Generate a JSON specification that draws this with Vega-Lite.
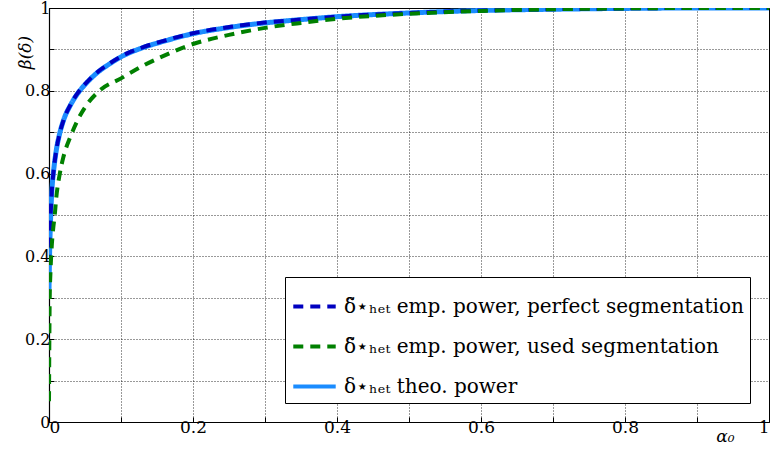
{
  "$schema": "https://vega.github.io/schema/vega-lite/v6.json",
  "width": 720,
  "height": 414,
  "autosize": "none",
  "padding": {"left": 49, "top": 8, "right": 1, "bottom": 29},
  "background": "white",
  "config": {
    "view": {"stroke": "black", "strokeWidth": 1},
    "font": "DejaVu Serif"
  },
  "data": {
    "values": [
      {"s": "theo", "x": 0, "y": 0.32},
      {"s": "theo", "x": 0.001, "y": 0.42},
      {"s": "theo", "x": 0.002, "y": 0.48},
      {"s": "theo", "x": 0.004, "y": 0.56},
      {"s": "theo", "x": 0.006, "y": 0.6},
      {"s": "theo", "x": 0.01, "y": 0.655},
      {"s": "theo", "x": 0.015, "y": 0.698},
      {"s": "theo", "x": 0.02, "y": 0.728},
      {"s": "theo", "x": 0.03, "y": 0.766},
      {"s": "theo", "x": 0.04, "y": 0.794},
      {"s": "theo", "x": 0.05, "y": 0.815},
      {"s": "theo", "x": 0.06, "y": 0.833},
      {"s": "theo", "x": 0.07, "y": 0.848},
      {"s": "theo", "x": 0.085, "y": 0.866},
      {"s": "theo", "x": 0.1, "y": 0.882},
      {"s": "theo", "x": 0.13, "y": 0.904},
      {"s": "theo", "x": 0.16, "y": 0.92},
      {"s": "theo", "x": 0.2, "y": 0.938},
      {"s": "theo", "x": 0.25, "y": 0.953},
      {"s": "theo", "x": 0.3, "y": 0.964},
      {"s": "theo", "x": 0.35, "y": 0.972},
      {"s": "theo", "x": 0.4, "y": 0.979},
      {"s": "theo", "x": 0.5, "y": 0.988},
      {"s": "theo", "x": 0.6, "y": 0.994},
      {"s": "theo", "x": 0.7, "y": 0.997},
      {"s": "theo", "x": 0.8, "y": 0.999},
      {"s": "theo", "x": 0.9, "y": 1},
      {"s": "theo", "x": 1, "y": 1},
      {"s": "perfect", "x": 0, "y": 0.38},
      {"s": "perfect", "x": 0.001, "y": 0.44},
      {"s": "perfect", "x": 0.002, "y": 0.49},
      {"s": "perfect", "x": 0.004, "y": 0.56},
      {"s": "perfect", "x": 0.006, "y": 0.6},
      {"s": "perfect", "x": 0.01, "y": 0.655},
      {"s": "perfect", "x": 0.015, "y": 0.698},
      {"s": "perfect", "x": 0.02, "y": 0.728},
      {"s": "perfect", "x": 0.03, "y": 0.767},
      {"s": "perfect", "x": 0.04, "y": 0.795},
      {"s": "perfect", "x": 0.05, "y": 0.816},
      {"s": "perfect", "x": 0.06, "y": 0.834},
      {"s": "perfect", "x": 0.07, "y": 0.849},
      {"s": "perfect", "x": 0.085, "y": 0.867},
      {"s": "perfect", "x": 0.1, "y": 0.883},
      {"s": "perfect", "x": 0.13, "y": 0.905},
      {"s": "perfect", "x": 0.16, "y": 0.921},
      {"s": "perfect", "x": 0.2, "y": 0.939},
      {"s": "perfect", "x": 0.25, "y": 0.954},
      {"s": "perfect", "x": 0.3, "y": 0.965},
      {"s": "perfect", "x": 0.35, "y": 0.972},
      {"s": "perfect", "x": 0.4, "y": 0.979},
      {"s": "perfect", "x": 0.5, "y": 0.988},
      {"s": "perfect", "x": 0.6, "y": 0.994},
      {"s": "perfect", "x": 0.7, "y": 0.997},
      {"s": "perfect", "x": 0.8, "y": 0.999},
      {"s": "perfect", "x": 0.9, "y": 1},
      {"s": "perfect", "x": 1, "y": 1},
      {"s": "used", "x": 0, "y": 0.05},
      {"s": "used", "x": 0.0005, "y": 0.2},
      {"s": "used", "x": 0.001, "y": 0.3},
      {"s": "used", "x": 0.002, "y": 0.36},
      {"s": "used", "x": 0.004, "y": 0.43},
      {"s": "used", "x": 0.006, "y": 0.47},
      {"s": "used", "x": 0.008, "y": 0.5},
      {"s": "used", "x": 0.01, "y": 0.54},
      {"s": "used", "x": 0.015, "y": 0.6},
      {"s": "used", "x": 0.02, "y": 0.64},
      {"s": "used", "x": 0.03, "y": 0.69},
      {"s": "used", "x": 0.04, "y": 0.73},
      {"s": "used", "x": 0.05, "y": 0.76},
      {"s": "used", "x": 0.07, "y": 0.8},
      {"s": "used", "x": 0.1, "y": 0.83},
      {"s": "used", "x": 0.13, "y": 0.86},
      {"s": "used", "x": 0.16, "y": 0.885},
      {"s": "used", "x": 0.2, "y": 0.913},
      {"s": "used", "x": 0.25, "y": 0.935},
      {"s": "used", "x": 0.3, "y": 0.952},
      {"s": "used", "x": 0.35, "y": 0.964},
      {"s": "used", "x": 0.4, "y": 0.974},
      {"s": "used", "x": 0.5, "y": 0.986},
      {"s": "used", "x": 0.6, "y": 0.993},
      {"s": "used", "x": 0.7, "y": 0.997},
      {"s": "used", "x": 0.8, "y": 0.999},
      {"s": "used", "x": 0.9, "y": 1},
      {"s": "used", "x": 1, "y": 1}
    ]
  },
  "encoding": {
    "x": {
      "field": "x", "type": "quantitative",
      "scale": {"domain": [0, 1], "nice": false, "zero": false},
      "axis": {
        "values": [0, 0.1, 0.2, 0.3, 0.4, 0.5, 0.6, 0.7, 0.8, 0.9, 1],
        "labelExpr": "round(datum.value*10) % 2 == 0 ? format(datum.value, '~g') : ''",
        "grid": true, "gridColor": "#000", "gridDash": [1, 2], "gridOpacity": 0.8,
        "domainColor": "black", "domainWidth": 1.2,
        "tickColor": "black", "tickSize": -5, "tickWidth": 1,
        "labelFont": "DejaVu Serif", "labelFontSize": 17, "labelColor": "black",
        "labelPadding": 2,
        "title": "α₀", "titleFont": "DejaVu Serif", "titleFontStyle": "italic", "titleFontWeight": "normal",
        "titleFontSize": 17, "titleColor": "black",
        "titleX": 676, "titleY": 6, "titleAlign": "center", "titleBaseline": "top"
      }
    },
    "y": {
      "field": "y", "type": "quantitative",
      "scale": {"domain": [0, 1], "nice": false},
      "axis": {
        "values": [0, 0.1, 0.2, 0.3, 0.4, 0.5, 0.6, 0.7, 0.8, 0.9, 1],
        "labelExpr": "round(datum.value*10) % 2 == 0 ? format(datum.value, '~g') : ''",
        "grid": true, "gridColor": "#000", "gridDash": [1, 2], "gridOpacity": 0.8,
        "domainColor": "black", "domainWidth": 1.2,
        "tickColor": "black", "tickSize": -5, "tickWidth": 1,
        "labelFont": "DejaVu Serif", "labelFontSize": 16, "labelColor": "black",
        "labelPadding": 4,
        "title": "β(δ)", "titleFont": "DejaVu Serif", "titleFontStyle": "italic", "titleFontWeight": "normal",
        "titleFontSize": 17, "titleColor": "black", "titleAngle": -90,
        "titleX": -24, "titleY": 44, "titleAlign": "center", "titleBaseline": "middle"
      }
    },
    "color": {
      "field": "s", "type": "nominal",
      "scale": {"domain": ["perfect", "used", "theo"], "range": ["#0000c0", "#008000", "#1a8cff"]},
      "legend": {
        "title": null,
        "orient": "bottom-right", "offset": 19,
        "labelExpr": "datum.value == 'perfect' ? 'δ̃⋆ₕₑₜ emp. power, perfect segmentation' : datum.value == 'used' ? 'δ̃⋆ₕₑₜ emp. power, used segmentation' : 'δ⋆ₕₑₜ theo. power'",
        "labelFont": "DejaVu Serif", "labelFontSize": 20, "labelColor": "black",
        "labelLimit": 600, "labelOffset": 6,
        "symbolType": "stroke", "symbolSize": 1800, "symbolStrokeWidth": 4,
        "rowPadding": 6, "padding": 6,
        "strokeColor": "black", "fillColor": "white", "cornerRadius": 0
      }
    },
    "strokeDash": {
      "field": "s", "type": "nominal",
      "scale": {"domain": ["perfect", "used", "theo"], "range": [[10, 7], [10, 7], [1, 0]]},
      "legend": null
    }
  },
  "layer": [
    {"transform": [{"filter": "datum.s == 'theo'"}], "mark": {"type": "line", "strokeWidth": 5, "interpolate": "monotone", "clip": true}},
    {"transform": [{"filter": "datum.s == 'perfect'"}], "mark": {"type": "line", "strokeWidth": 4, "interpolate": "monotone", "clip": true}},
    {"transform": [{"filter": "datum.s == 'used'"}], "mark": {"type": "line", "strokeWidth": 4, "interpolate": "monotone", "clip": true}}
  ]
}
